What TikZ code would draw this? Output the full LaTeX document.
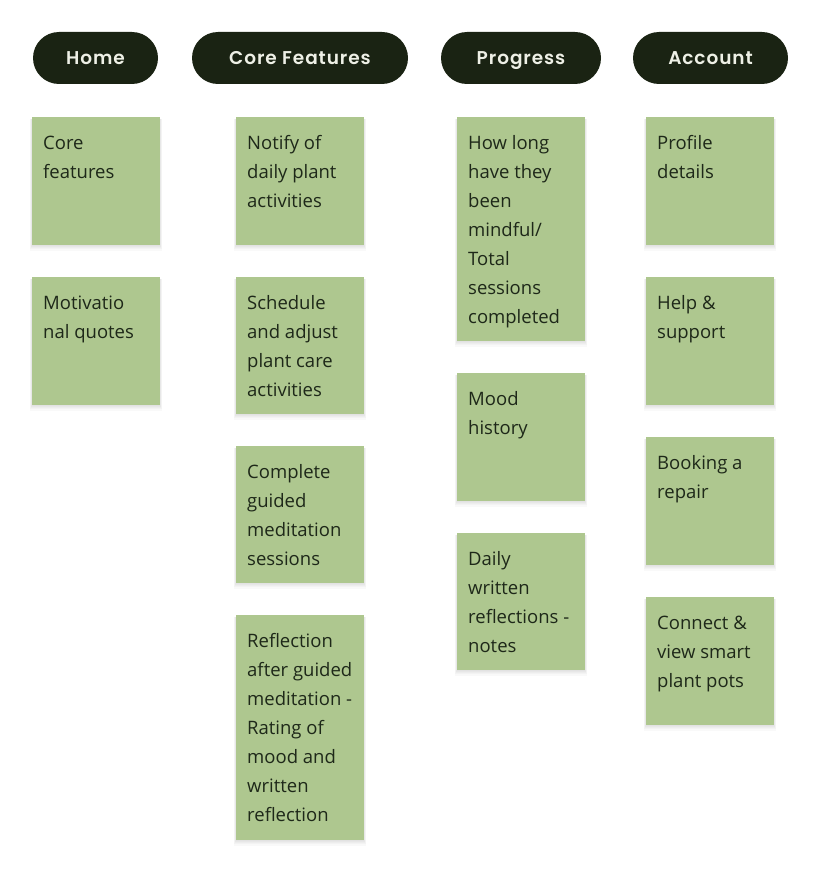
\documentclass[tikz,border=0pt]{standalone}
\usepackage{fontspec}
\setmainfont{Open Sans}
\newfontfamily\headfont{Poppins SemiBold}[LetterSpace=5]
\definecolor{pilldark}{HTML}{1A2313}
\definecolor{pilltext}{HTML}{EEF0E6}
\definecolor{stickygreen}{HTML}{AEC78F}
\definecolor{stickytext}{HTML}{1E2819}
\tikzset{
  pill/.style={fill=pilldark, rounded corners=26pt, minimum height=52pt, inner sep=0pt,
    text=pilltext, text height=13pt, text depth=0pt, font=\headfont\fontsize{18.5}{20}\selectfont},
  sticky/.style={fill=stickygreen, anchor=north west, minimum width=128pt, inner sep=0pt},
  softshadow/.style={fill=black, opacity=0.025},
  stickytxt/.style={anchor=north west, inner sep=0pt, align=left, text=stickytext,
    font=\fontsize{18.5}{29}\selectfont}
}
\newcommand\mysticky[5]{%
  \foreach \k in {1,...,5}{%
    \fill[softshadow] ({#2-0.4*\k},{#3+2}) rectangle ({#2+128+0.4*\k},{#3+#4+1.1*\k});
  }
  \node[sticky, minimum height=#4pt] (#1) at (#2,#3) {};
  \node[stickytxt] (#1t) at ([xshift=11pt,yshift=-11.7pt]#1.north west) {\strut #5};
}
\begin{document}
\begin{tikzpicture}[x=1pt,y=-1pt]
\useasboundingbox (0,0) rectangle (820,872);
\node[pill, minimum width=125pt] (home) at (95.5,58) {Home};
\node[pill, minimum width=216pt] (core) at (300,58) {Core Features};
\node[pill, minimum width=160pt] (prog) at (521,58) {Progress};
\node[pill, minimum width=155pt] (acct) at (710.5,58) {Account};

\mysticky{h1}{32}{117}{128}{Core\\features}
\mysticky{h2}{32}{277}{128}{Motivatio\\nal quotes}

\mysticky{c1}{236}{117}{128}{Notify of\\daily plant\\activities}
\mysticky{c2}{236}{277}{137}{Schedule\\and adjust\\plant care\\activities}
\mysticky{c3}{236}{446}{137}{Complete\\guided\\meditation\\sessions}
\mysticky{c4}{236}{615}{225}{Reflection\\after guided\\meditation -\\Rating of\\mood and\\written\\reflection}

\mysticky{p1}{457}{117}{224}{How long\\have they\\been\\mindful/\\Total\\sessions\\completed}
\mysticky{p2}{457}{373}{128}{Mood\\history}
\mysticky{p3}{457}{533}{137}{Daily\\written\\reflections -\\notes}

\mysticky{a1}{646}{117}{128}{Profile\\details}
\mysticky{a2}{646}{277}{128}{Help \&\\support}
\mysticky{a3}{646}{437}{128}{Booking a\\repair}
\mysticky{a4}{646}{597}{128}{Connect \&\\view smart\\plant pots}
\end{tikzpicture}
\end{document}
